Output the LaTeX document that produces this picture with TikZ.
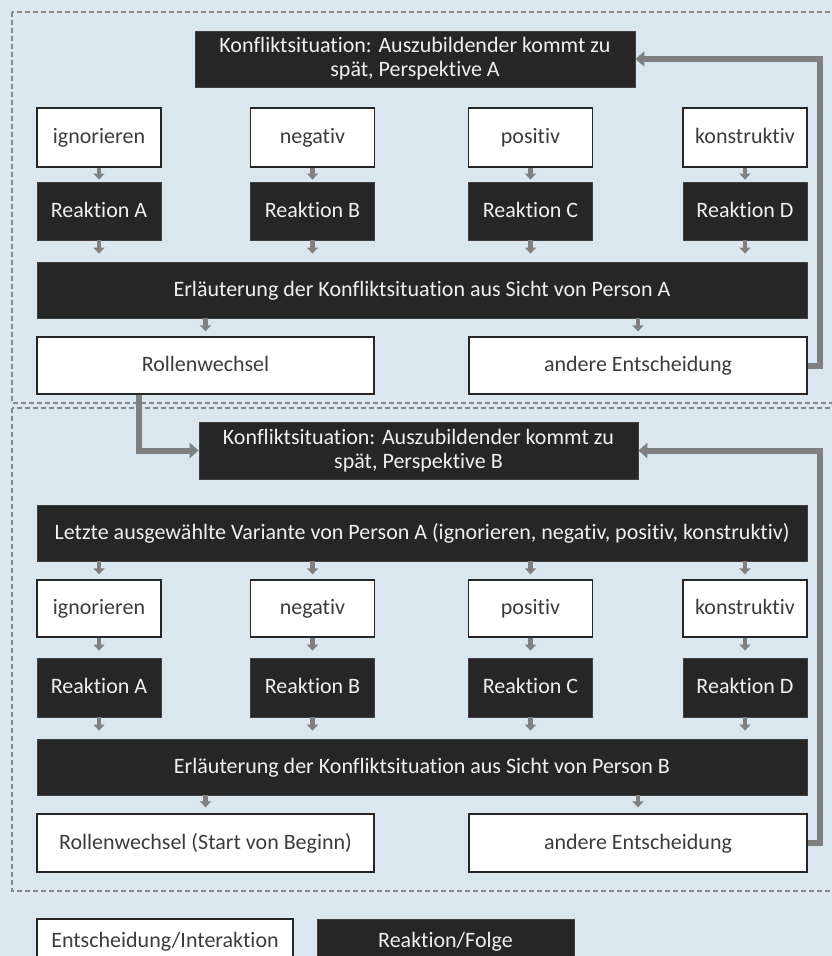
\documentclass[tikz,border=0pt]{standalone}
\usepackage{fontspec}
\setmainfont{Carlito}[Ligatures=NoCommon]
\usetikzlibrary{arrows.meta}
\definecolor{bg}{RGB}{218,231,239}
\definecolor{dark}{RGB}{38,38,38}
\definecolor{conn}{RGB}{128,128,128}
\definecolor{framec}{RGB}{135,135,135}
\definecolor{wtext}{RGB}{60,60,60}
\newcommand{\fs}{\fontsize{22}{20}\selectfont}
\newcommand{\fstwo}{\fontsize{22}{24}\selectfont}
\begin{document}
\begin{tikzpicture}[x=1pt,y=-1pt,
  wbase/.style={draw=dark, line width=1.3pt, fill=white, text=wtext, inner sep=0pt, font=\fs, align=center},
  bbase/.style={draw=black!75, line width=0.8pt, fill=dark, text=white!94!black, inner sep=0pt, font=\fs, align=center},
  sl/.style={text height=15pt, text depth=3pt},
  wbox/.style={wbase, sl},
  bbox/.style={bbase, sl},
  twoline/.style={bbase, font=\fstwo},
  small/.style={minimum width=124pt},
  sarr/.style={draw=conn, line width=4.5pt, -{Triangle[width=11pt,length=6pt]}},
  barr/.style={draw=conn, line width=6pt, -{Triangle[width=15pt,length=9pt]}},
  dframe/.style={draw=framec, line width=1.2pt, dash pattern=on 5pt off 3pt}]
\useasboundingbox (0,0) rectangle (832,956);
\clip (0,0) rectangle (832,956);
\fill[bg] (0,0) rectangle (832,956);

% frames
\draw[dframe] (12,12) rectangle (850,403);
\draw[dframe] (12,408) rectangle (850,891);

% ---------- top section
\node[twoline, minimum width=440pt, minimum height=56pt] (ka) at (415,59) {Konfliktsituation: Auszubildender kommt zu\\spät, Perspektive A};

\node[wbox, small, minimum height=59pt] (w1) at (99,137.5) {ignorieren};
\node[wbox, small, minimum height=59pt] (w2) at (312.5,137.5) {negativ};
\node[wbox, small, minimum height=59pt] (w3) at (530.5,137.5) {positiv};
\node[wbox, small, minimum height=59pt] (w4) at (745,137.5) {konstruktiv};

\node[bbox, small, minimum height=58pt] (r1) at (99,211) {Reaktion A};
\node[bbox, small, minimum height=58pt] (r2) at (312.5,211) {Reaktion B};
\node[bbox, small, minimum height=58pt] (r3) at (530.5,211) {Reaktion C};
\node[bbox, small, minimum height=58pt] (r4) at (745,211) {Reaktion D};

\node[bbox, minimum width=770pt, minimum height=56pt] (ea) at (422,290) {Erläuterung der Konfliktsituation aus Sicht von Person A};

\node[wbox, minimum width=337pt, minimum height=57pt] (ra) at (205.5,365.5) {Rollenwechsel};
\node[wbox, minimum width=338pt, minimum height=57pt] (aa) at (638,365.5) {andere Entscheidung};

\foreach \i in {1,2,3,4}{
  \draw[sarr, shorten >=2pt] (w\i.south) -- (r\i.north);
  \draw[sarr, shorten >=8pt] (r\i.south) -- (r\i.south |- ea.north);
}
\draw[sarr, shorten >=5pt] (ra.north |- ea.south) -- (ra.north);
\draw[sarr, shorten >=5pt] (aa.north |- ea.south) -- (aa.north);

% ---------- bottom section
\node[twoline, minimum width=439pt, minimum height=57pt] (kb) at (418.5,450.5) {Konfliktsituation: Auszubildender kommt zu\\spät, Perspektive B};

\node[bbox, minimum width=770pt, minimum height=56pt] (lb) at (422,533) {Letzte ausgewählte Variante von Person A (ignorieren, negativ, positiv, konstruktiv)};

\node[wbox, small, minimum height=57pt] (v1) at (99,608.5) {ignorieren};
\node[wbox, small, minimum height=57pt] (v2) at (312.5,608.5) {negativ};
\node[wbox, small, minimum height=57pt] (v3) at (530.5,608.5) {positiv};
\node[wbox, small, minimum height=57pt] (v4) at (745,608.5) {konstruktiv};

\node[bbox, small, minimum height=59pt] (s1) at (99,687.5) {Reaktion A};
\node[bbox, small, minimum height=59pt] (s2) at (312.5,687.5) {Reaktion B};
\node[bbox, small, minimum height=59pt] (s3) at (530.5,687.5) {Reaktion C};
\node[bbox, small, minimum height=59pt] (s4) at (745,687.5) {Reaktion D};

\node[bbox, minimum width=770pt, minimum height=56pt] (eb) at (422,767) {Erläuterung der Konfliktsituation aus Sicht von Person B};

\node[wbox, minimum width=337pt, minimum height=58pt] (rb) at (205.5,843) {Rollenwechsel (Start von Beginn)};
\node[wbox, minimum width=338pt, minimum height=58pt] (ab) at (638,843) {andere Entscheidung};

\foreach \i in {1,2,3,4}{
  \draw[sarr, shorten >=5pt] (v\i.north |- lb.south) -- (v\i.north);
  \draw[sarr, shorten >=7pt] (v\i.south) -- (s\i.north);
  \draw[sarr, shorten >=8pt] (s\i.south) -- (s\i.south |- eb.north);
}
\draw[sarr, shorten >=6pt] (rb.north |- eb.south) -- (rb.north);
\draw[sarr, shorten >=6pt] (ab.north |- eb.south) -- (ab.north);

% ---------- big connectors
\coordinate (rx) at (820,0);
\coordinate (lx) at (139,0);
\draw[barr] (aa.east) -- (aa.east -| rx) |- (ka.east);
\draw[barr] (ra.south -| lx) |- (kb.west);
\draw[barr] (ab.east) -- (ab.east -| rx) |- (kb.east);

% ---------- legend
\node[wbox, minimum width=256pt, minimum height=44pt] (lw) at (165,941) {Entscheidung/Interaktion};
\node[bbox, minimum width=257pt, minimum height=44pt] (lk) at (445.5,941) {Reaktion/Folge};
\end{tikzpicture}
\end{document}
